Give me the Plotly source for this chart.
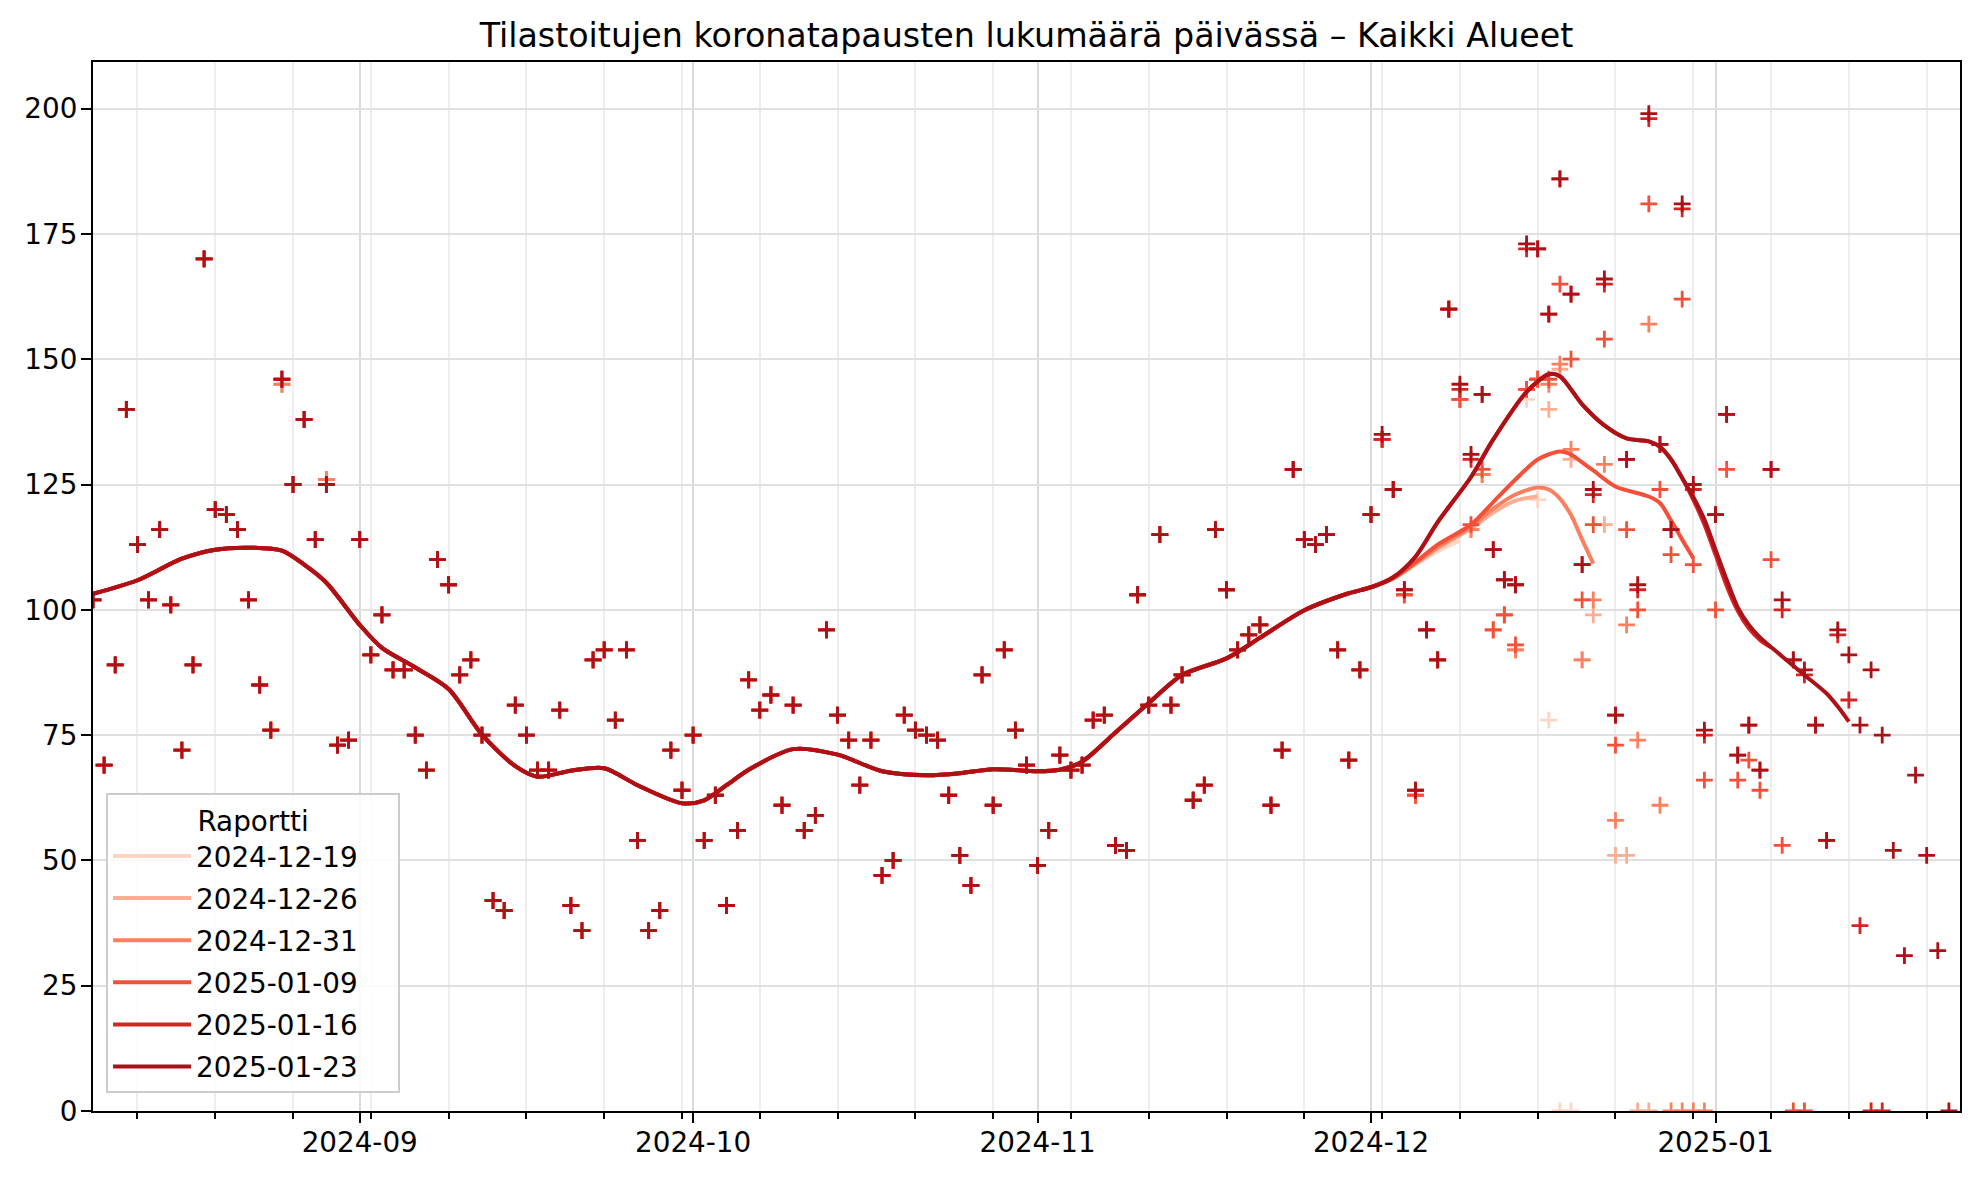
import pandas as pd
import plotly.graph_objects as go

# ---------------- data ----------------
start_date = "2024-08-08"
end_date = "2025-01-23"

report_names = ["2024-12-19", "2024-12-26", "2024-12-31", "2025-01-09", "2025-01-16", "2025-01-23"]
report_colors = ["#fdd5c3", "#fcae92", "#fc8060", "#f45039", "#d72322", "#ad1117"]

# Latest report (2025-01-23): daily cases 2024-08-08 .. 2025-01-22
cases_aug = [102, 69, 89, 140, 113, 102, 116, 101, 72, 89, 170, 120, 119, 116, 102, 85, 76, 146, 125, 138, 114, 125, 73, 74]
cases_sep = [114, 91, 99, 88, 88, 75, 68, 110, 105, 87, 90, 75, 42, 40, 81, 75, 68, 68, 80, 41, 36, 90, 92, 78, 92, 54, 36, 40, 72, 64]
cases_oct = [75, 54, 63, 41, 56, 86, 80, 83, 61, 81, 56, 59, 96, 79, 74, 65, 74, 47, 50, 79, 76, 75, 74, 63, 51, 45, 87, 61, 92, 76, 69]
cases_nov = [49, 56, 71, 68, 69, 78, 79, 53, 52, 103, 81, 115, 81, 87, 62, 65, 116, 104, 92, 95, 97, 61, 72, 128, 114, 113, 115, 92, 70, 88]
cases_dec = [119, 135, 124, 104, 64, 96, 90, 160, 145, 131, 143, 112, 106, 105, 173, 172, 159, 186, 163, 109, 124, 166, 79, 130, 105, 199, 133, 116, 181, 125, 76]
cases_jan = [119, 139, 71, 77, 68, 128, 102, 90, 88, 77, 54, 96, 91, 77, 88, 75, 52, 31, 67, 51, 32, 0]

# Older reports: values from 2024-12-01 onwards (earlier days as in the latest report)
tail_20250116 = [119, 134, 124, 104, 64, 96, 90, 160, 144, 130, 143, 112, 106, 105, 172, 172, 159, 186, 163, 109, 123, 165,
                 79, 130, 104, 198, 133, 116, 180, 124, 75,
                 119, 139, 71, 77, 68, 128, 100, 90, 87, 77, 54, 95, 82, 37, 0, 0]
tail_20250109 = [119, 134, 124, 103, 63, 96, 90, 160, 142, 117, 128, 96, 99, 93, 144, 146, 146, 165, 150, 102, 117, 154,
                 73, 116, 100, 181, 124, 111, 162, 109, 66,
                 100, 128, 66, 70, 64, 110, 53, 0, 0]
tail_20241231 = [119, 134, 124, 103, 63, 96, 90, 160, 142, 116, 127, 96, 99, 92, 144, 146, 145, 149, 132, 90, 102, 129,
                 58, 97, 74, 157, 61, 0, 0, 0, 0]
tail_20241226 = [119, 134, 124, 103, 63, 96, 90, 160, 142, 116, 127, 96, 99, 92, 144, 146, 140, 148, 130, 90, 99, 117,
                 51, 51, 0, 0]
tail_20241219 = [119, 134, 124, 103, 63, 96, 90, 160, 142, 116, 127, 96, 99, 92, 142, 122, 78, 0, 0]
old_report_revisions = {"2024-08-25": 145, "2024-08-29": 126}   # reports up to 2024-12-31

# Smoothed trend lines
trend_base_dates = ["2024-08-08", "2024-08-12", "2024-08-16", "2024-08-19", "2024-08-22", "2024-08-25", "2024-08-27",
                    "2024-08-29", "2024-09-01", "2024-09-03", "2024-09-06", "2024-09-09", "2024-09-12", "2024-09-15",
                    "2024-09-17", "2024-09-20", "2024-09-23", "2024-09-26", "2024-09-30", "2024-10-02", "2024-10-04",
                    "2024-10-06", "2024-10-10", "2024-10-14", "2024-10-18", "2024-10-22", "2024-10-25", "2024-10-28",
                    "2024-11-01", "2024-11-03", "2024-11-05", "2024-11-08", "2024-11-11", "2024-11-14", "2024-11-18",
                    "2024-11-21", "2024-11-25", "2024-11-29", "2024-12-01"]
trend_base_values = [103.2, 105.9, 110.2, 112.0, 112.4, 111.8, 109.0, 105.4, 97.0, 92.4, 88.5, 84.2, 75.1, 68.8,
                     66.7, 67.9, 68.4, 65.0, 61.4, 62.0, 65.0, 68.1, 72.2, 71.1, 67.8, 67.0, 67.4, 68.2,
                     67.8, 68.1, 69.7, 75.5, 81.4, 87.0, 90.3, 94.4, 99.9, 103.3, 104.5]

trend_tail_20250123_dates = ["2024-12-03", "2024-12-05", "2024-12-07", "2024-12-10", "2024-12-12", "2024-12-15",
                             "2024-12-17", "2024-12-18", "2024-12-20", "2024-12-22", "2024-12-24", "2024-12-26",
                             "2024-12-27", "2024-12-28", "2024-12-29", "2024-12-30", "2024-12-31", "2025-01-01",
                             "2025-01-02", "2025-01-03", "2025-01-04", "2025-01-05", "2025-01-07", "2025-01-09",
                             "2025-01-11", "2025-01-12", "2025-01-13"]
trend_tail_20250123 = [106.5, 110.6, 117.5, 126.5, 134.0, 143.5, 147.0, 146.6, 141.0, 136.8, 134.2, 133.6,
                       132.5, 130.0, 126.3, 122.5, 118.0, 112.0, 106.0, 100.5, 97.0, 94.5, 90.7, 87.0,
                       83.3, 80.7, 77.7]
trend_tail_20250116_dates = trend_tail_20250123_dates[:15] + ["2024-12-30", "2024-12-31", "2025-01-01", "2025-01-02",
                                                              "2025-01-03", "2025-01-04", "2025-01-05", "2025-01-06"]
trend_tail_20250116 = trend_tail_20250123[:15] + [122.0, 117.0, 111.0, 104.8, 99.8, 96.3, 94.0, 92.5]
trend_tail_20250109_dates = ["2024-12-03", "2024-12-05", "2024-12-07", "2024-12-10", "2024-12-12", "2024-12-14",
                             "2024-12-16", "2024-12-18", "2024-12-19", "2024-12-20", "2024-12-21", "2024-12-23",
                             "2024-12-26", "2024-12-27", "2024-12-28", "2024-12-29", "2024-12-30"]
trend_tail_20250109 = [106.3, 109.5, 113.0, 117.0, 121.5, 126.0, 130.0, 131.6, 131.0, 129.4, 127.8, 124.6,
                       122.6, 121.3, 117.8, 114.0, 110.3]
trend_tail_20241231_dates = ["2024-12-03", "2024-12-05", "2024-12-07", "2024-12-10", "2024-12-12", "2024-12-14",
                             "2024-12-16", "2024-12-17", "2024-12-18", "2024-12-19", "2024-12-20", "2024-12-21"]
trend_tail_20241231 = [106.3, 109.3, 112.5, 116.6, 120.2, 123.0, 124.4, 124.0, 122.2, 118.9, 114.0, 109.2]
trend_tail_20241226_dates = ["2024-12-03", "2024-12-05", "2024-12-07", "2024-12-10", "2024-12-12", "2024-12-14",
                             "2024-12-16"]
trend_tail_20241226 = [106.3, 109.2, 112.2, 116.2, 119.4, 121.8, 122.6]
trend_tail_20241219_dates = ["2024-12-03", "2024-12-05", "2024-12-07", "2024-12-09"]
trend_tail_20241219 = [106.2, 109.0, 111.7, 113.8]

month_ticks = ["2024-09-01", "2024-10-01", "2024-11-01", "2024-12-01", "2025-01-01"]
month_labels = ["2024-09", "2024-10", "2024-11", "2024-12", "2025-01"]
y_ticks = [0, 25, 50, 75, 100, 125, 150, 175, 200]

# ---------------- build series ----------------
latest = cases_aug + cases_sep + cases_oct + cases_nov + cases_dec + cases_jan
n_before_dec = len(cases_aug) + len(cases_sep) + len(cases_oct) + len(cases_nov)


def make_series(tail, revisions=None):
    vals = latest[:n_before_dec] + tail if tail is not None else list(latest)
    dates = [d.strftime("%Y-%m-%d") for d in pd.date_range(start_date, periods=len(vals), freq="D")]
    if revisions:
        vals = [revisions.get(d, v) for d, v in zip(dates, vals)]
    return dates, vals


series = [
    make_series(tail_20241219, old_report_revisions),
    make_series(tail_20241226, old_report_revisions),
    make_series(tail_20241231, old_report_revisions),
    make_series(tail_20250109),
    make_series(tail_20250116),
    make_series(None),
]
trends = [
    (trend_base_dates + trend_tail_20241219_dates, trend_base_values + trend_tail_20241219),
    (trend_base_dates + trend_tail_20241226_dates, trend_base_values + trend_tail_20241226),
    (trend_base_dates + trend_tail_20241231_dates, trend_base_values + trend_tail_20241231),
    (trend_base_dates + trend_tail_20250109_dates, trend_base_values + trend_tail_20250109),
    (trend_base_dates + trend_tail_20250116_dates, trend_base_values + trend_tail_20250116),
    (trend_base_dates + trend_tail_20250123_dates, trend_base_values + trend_tail_20250123),
]

# ---------------- figure ----------------
fig = go.Figure()
for name, color, (dx, dy), (tx, ty) in zip(report_names, report_colors, series, trends):
    fig.add_trace(go.Scatter(
        x=dx, y=dy, mode="markers", showlegend=False, hoverinfo="skip", legendgroup=name,
        marker=dict(symbol="cross-thin", size=12, color=color, line=dict(width=2.8, color=color)),
    ))
    fig.add_trace(go.Scatter(
        x=tx, y=ty, mode="lines", name=name + "\u00a0\u00a0\u00a0\u00a0", legendgroup=name,
        line=dict(color=color, width=4.0, shape="spline", smoothing=0.8),
    ))

# page body has an 8 px default margin: size the figure so the plot area lands where it should
PAGE = 8
W, H = 1980 - 2 * PAGE, 1178 - 2 * PAGE
fig.update_layout(
    width=W, height=H,
    margin=dict(l=93 - PAGE, r=20 - PAGE, t=62 - PAGE, b=67 - PAGE, autoexpand=False),
    paper_bgcolor="white", plot_bgcolor="white",
    font=dict(family="DejaVu Sans", color="black", size=27.8),
    title=dict(text="Tilastoitujen koronatapausten lukumäärä päivässä – Kaikki Alueet",
               x=0.5, xref="paper", xanchor="center",
               y=1 - (35 - PAGE) / H, yref="container", yanchor="middle",
               font=dict(size=33.3, color="black", family="DejaVu Sans")),
    legend=dict(
        x=0.007, y=0.017, xanchor="left", yanchor="bottom",
        bgcolor="rgba(255,255,255,0.85)", bordercolor="#cccccc", borderwidth=2,
        font=dict(size=27.8, family="DejaVu Sans", color="black"),
        title=dict(text="Raportti", side="top center", font=dict(size=27.8)),
        tracegroupgap=3, itemwidth=78,
    ),
    showlegend=True,
)
fig.update_xaxes(
    type="date", range=[start_date, end_date],
    tickmode="array", tickvals=month_ticks, ticktext=month_labels,
    ticks="outside", ticklen=10, tickwidth=2.2, tickcolor="black",
    tickfont=dict(size=27.8, color="black"),
    showgrid=True, gridcolor="#dadada", gridwidth=2.2,
    showline=True, linecolor="black", linewidth=2.2, mirror=True,
    zeroline=False,
    minor=dict(tick0="2024-08-12", dtick=7 * 86400000, ticks="outside", ticklen=6,
               tickwidth=1.7, tickcolor="black", showgrid=True, gridcolor="#eeeeee", gridwidth=2),
)
fig.update_yaxes(
    range=[0, 209.3], tickmode="array", tickvals=y_ticks,
    ticks="outside", ticklen=10, tickwidth=2.2, tickcolor="black",
    tickfont=dict(size=27.8, color="black"),
    showgrid=True, gridcolor="#e0e0e0", gridwidth=2.2,
    showline=True, linecolor="black", linewidth=2.2, mirror=True,
    zeroline=False,
)
try:
    fig.update_yaxes(ticklabelstandoff=-2)
    fig.update_xaxes(ticklabelstandoff=-4)
except Exception:
    pass

fig.write_html("out.html")
